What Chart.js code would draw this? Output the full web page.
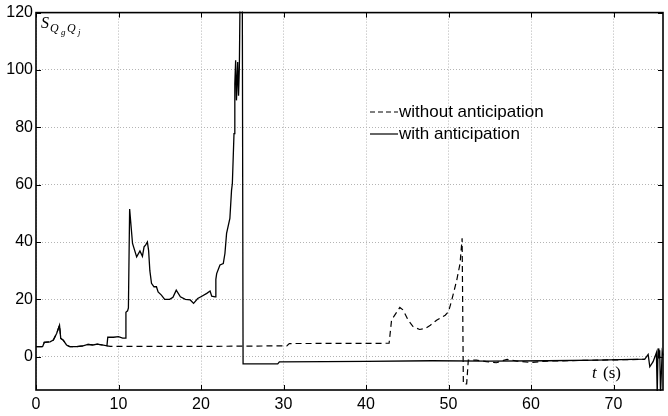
<!DOCTYPE html>
<html>
<head>
<meta charset="utf-8">
<title>S_QgQj</title>
<script src="https://cdn.jsdelivr.net/npm/chart.js@4/dist/chart.umd.min.js"></script>
<style>
  html, body { margin: 0; padding: 0; background: #fff; }
  #wrap { width: 668px; height: 416px; }
</style>
</head>
<body>
<div id="wrap"><canvas id="c" width="668" height="416"></canvas></div>
<script>
// temps (s) et valeurs
const tWith = [0, 0.8, 1.0, 1.7, 2.1, 2.5, 2.85, 3.0, 3.3, 3.7, 4.1, 4.9, 5.7, 6.3, 6.9, 7.4, 8.0, 8.6,
  8.7, 9.4, 10.0, 10.5, 10.8, 10.9, 11.1, 11.2, 11.35, 11.7, 12.2, 12.6, 12.9, 13.1, 13.3, 13.5, 13.65,
  13.8, 14.0, 14.3, 14.6, 14.8, 15.2, 15.6, 16.2, 16.6, 17.0, 17.5, 18.1, 18.7, 19.1, 19.6, 20.1, 20.7,
  21.1, 21.3, 21.7, 21.8, 21.9, 22.3, 22.7, 22.9, 23.1, 23.5, 23.7, 23.8, 24.0, 24.1, 24.2, 24.3, 24.45,
  24.55, 24.65, 24.75, 25.0, 25.1, 29.3, 29.5, 35, 40, 48, 55, 62, 68, 73.8, 74.2, 74.4, 74.8, 75.2,
  75.3, 75.4, 75.5, 75.6, 75.7, 75.9, 76];
const sWith = [3.5, 3.5, 5.0, 5.2, 5.8, 8.1, 11, 6.4, 5.8, 4.1, 3.5, 3.5, 3.8, 4.3, 4.1, 4.4, 4.1, 3.8,
  6.8, 6.8, 7.0, 6.5, 6.5, 15.5, 16, 17, 51.5, 39.5, 34.8, 36.9, 35, 38.3, 39, 40, 37,
  30, 25.6, 24.4, 24.4, 22.6, 21.5, 20, 20, 20.7, 23.2, 20.9, 20, 19.8, 18.6, 20.3, 21.1, 22.1,
  22.9, 21.1, 20.9, 27, 29, 32, 32.5, 36, 43, 48.2, 58, 60.4, 77.8, 95.3, 103.4, 89.4, 102.8,
  91, 101, 130, 135, -2.5, -2.5, -1.8, -1.7, -1.6, -1.4, -1.5, -1.4, -1.2, -0.8, 0.8, -3.5, -1.7, 1.4,
  -13, 2.9, -0.6, 2.3, -13, 1.7, 0.5];

const tWithout = [0, 0.8, 1.0, 1.7, 2.1, 2.5, 2.85, 3.0, 3.3, 3.7, 4.1, 4.9, 5.7, 6.3, 6.9, 7.4, 8.0, 8.6,
  9, 20, 30.4, 30.7, 42.8, 43.1, 44.1, 44.5, 45.1, 45.7, 46.5, 47.2, 47.8, 48.6, 49.6, 50, 50.4, 51,
  51.4, 51.65, 51.8, 52.2, 52.4, 53.4, 54.6, 55.8, 57.1, 58.3, 59.9, 62, 68, 73.8];
const sWithout = [3.5, 3.5, 5.0, 5.2, 5.8, 8.1, 11, 6.4, 5.8, 4.1, 3.5, 3.5, 3.8, 4.3, 4.1, 4.4, 4.1, 3.8,
  3.6, 3.6, 3.8, 4.6, 4.7, 12.8, 17.2, 16.3, 12.8, 10.5, 9.5, 9.9, 11, 12.8, 14.5, 15.7, 19.8, 26.7,
  32.5, 41.3, -9.5, -9.5, -1.2, -1.2, -1.7, -2.1, -0.9, -1.5, -2, -1.5, -1.2, -0.9];

const xTicks = [0, 10, 20, 30, 40, 50, 60, 70];
const yTicks = [0, 20, 40, 60, 80, 100, 120];

const seriesNames = ['without anticipation', 'with anticipation'];

const pts = (t, s) => t.map((v, i) => ({ x: v, y: s[i] }));

// cadre + graduations vers l'intérieur, légende et libellés d'axes
const decor = {
  id: 'decor',
  afterDraw(chart) {
    const { ctx, chartArea: a, scales } = chart;
    const x = scales.x, y = scales.y;
    ctx.save();
    ctx.strokeStyle = '#000';
    ctx.lineWidth = 1;
    ctx.beginPath();
    xTicks.forEach(v => {
      const px = Math.round(x.getPixelForValue(v)) + 0.5;
      ctx.moveTo(px, a.bottom); ctx.lineTo(px, a.bottom - 5);
      ctx.moveTo(px, a.top); ctx.lineTo(px, a.top + 5);
    });
    yTicks.forEach(v => {
      const py = Math.round(y.getPixelForValue(v)) + 0.5;
      ctx.moveTo(a.left, py); ctx.lineTo(a.left + 5, py);
      ctx.moveTo(a.right, py); ctx.lineTo(a.right - 5, py);
    });
    ctx.stroke();
    ctx.lineWidth = 1.6;
    ctx.strokeRect(a.left, a.top, a.right - a.left, a.bottom - a.top);

    // légende
    const lx = 370, ly = 112;
    ctx.lineWidth = 1.2;
    ctx.setLineDash([5, 3]);
    ctx.beginPath(); ctx.moveTo(lx, ly); ctx.lineTo(lx + 28, ly); ctx.stroke();
    ctx.setLineDash([]);
    ctx.beginPath(); ctx.moveTo(lx, ly + 22); ctx.lineTo(lx + 28, ly + 22); ctx.stroke();
    ctx.fillStyle = '#000';
    ctx.font = '17px "Liberation Sans", Arial, sans-serif';
    ctx.textBaseline = 'middle';
    ctx.fillText(seriesNames[0], lx + 29, ly);
    ctx.fillText(seriesNames[1], lx + 29, ly + 22);

    // S_{Q_g Q_j}
    ctx.textBaseline = 'alphabetic';
    ctx.font = 'italic 16px "Liberation Serif", serif';
    ctx.fillText('S', 41, 28);
    ctx.font = 'italic 12px "Liberation Serif", serif';
    ctx.fillText('Q', 50, 32);
    ctx.font = 'italic 9px "Liberation Serif", serif';
    ctx.fillText('g', 61, 35);
    ctx.font = 'italic 12px "Liberation Serif", serif';
    ctx.fillText('Q', 67, 32);
    ctx.font = 'italic 9px "Liberation Serif", serif';
    ctx.fillText('j', 78, 35);

    // t (s)
    ctx.font = 'italic 17px "Liberation Serif", serif';
    ctx.fillText('t', 592, 378);
    ctx.font = '17px "Liberation Serif", serif';
    ctx.fillText('(s)', 603, 378);
    ctx.restore();
  }
};

new Chart(document.getElementById('c'), {
  type: 'line',
  data: {
    datasets: [
      {
        label: seriesNames[0],
        data: pts(tWithout, sWithout),
        borderColor: '#000',
        borderWidth: 1.2,
        borderDash: [6, 4],
        pointRadius: 0,
        tension: 0,
        clip: 1,
        order: 2
      },
      {
        label: seriesNames[1],
        data: pts(tWith, sWith),
        borderColor: '#000',
        borderWidth: 1.3,
        pointRadius: 0,
        tension: 0,
        clip: 1,
        order: 1
      }
    ]
  },
  options: {
    responsive: false,
    animation: false,
    layout: { padding: { top: 12, right: 5, left: 0, bottom: 0 } },
    plugins: { legend: { display: false }, tooltip: { enabled: false } },
    scales: {
      x: {
        type: 'linear',
        min: 0, max: 76,
        afterBuildTicks: s => { s.ticks = xTicks.map(v => ({ value: v })); },
        afterFit: s => { s.height = 26; },
        grid: { color: '#b4b4b4', lineWidth: 1, drawTicks: false },
        border: { display: false, dash: [1, 2] },
        ticks: { color: '#000', font: { family: '"Liberation Sans", Arial, sans-serif', size: 16 }, padding: 5, maxRotation: 0 }
      },
      y: {
        min: -11.6, max: 120,
        afterBuildTicks: s => { s.ticks = yTicks.map(v => ({ value: v })); },
        afterFit: s => { s.width = 36; },
        grid: { color: '#b4b4b4', lineWidth: 1, drawTicks: false },
        border: { display: false, dash: [1, 2] },
        ticks: { color: '#000', font: { family: '"Liberation Sans", Arial, sans-serif', size: 16 }, padding: 3 }
      }
    }
  },
  plugins: [decor]
});
</script>
</body>
</html>
